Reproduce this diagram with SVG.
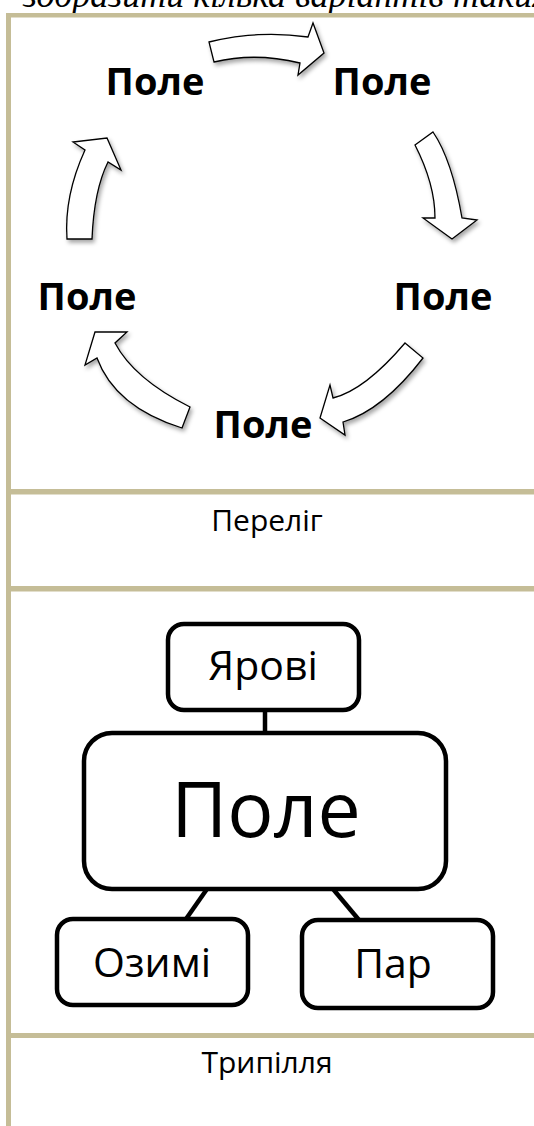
<svg xmlns="http://www.w3.org/2000/svg" width="534" height="1126" viewBox="0 0 534 1126">
<style>
.border{fill:#C5BD97}
.cyc{font-family:"Open Sans","Noto Sans",sans-serif;font-weight:bold;font-size:38px;fill:#000;text-anchor:middle}
.lbl{font-family:"Open Sans","Noto Sans",sans-serif;font-size:30px;fill:#000;text-anchor:middle}
.box{fill:#fff;stroke:#000;stroke-width:4.5}
.bt{font-family:"Open Sans","Noto Sans",sans-serif;font-size:41px;fill:#000;text-anchor:middle}
.arr{fill:#fff;stroke:#000;stroke-width:1.3;stroke-linejoin:miter;filter:url(#sh)}
.ln{stroke:#000;stroke-width:4.5;fill:none}
</style>
<defs>
<filter id="sh" x="-30%" y="-30%" width="160%" height="160%">
<feDropShadow dx="2" dy="3" stdDeviation="2" flood-color="#000" flood-opacity="0.35"/>
</filter>
</defs>
<rect width="534" height="1126" fill="#fff"/>
<text x="23" y="7" font-family="'Liberation Serif',serif" font-style="italic" font-size="36" fill="#000">зобразити кілька варіантів таких:</text>
<g id="table">
<rect class="border" x="6" y="13" width="528" height="4.5"/>
<rect class="border" x="6" y="13" width="5" height="1113"/>
<rect class="border" x="11" y="489" width="523" height="5.5"/>
<rect class="border" x="11" y="586" width="523" height="5.5"/>
<rect class="border" x="11" y="1033" width="523" height="5"/>
</g>
<g id="connectors">
<path id="arrow1" class="arr" d="M209,42 Q258,30 308,37 L313,23 L324,53 L298,75 L300,63 Q255,52 214,62 Z"/>
<path id="arrow2" class="arr" d="M415,145 L433,132 Q452,160 462,218 L477,220 L452,239 L423,218 L435,218 Q435,184 415,145 Z"/>
<path id="arrow3" class="arr" d="M405,343 L423,358 Q383,410 343,422 L345,435 L320,418 L330,385 L333,398 Q365,390 405,343 Z"/>
<path id="arrow4" class="arr" d="M190,407 L182,428 Q115,407 97,358 L85,365 L95,332 L127,332 L115,343 Q134,379 190,407 Z"/>
<path id="arrow5" class="arr" d="M67,239 L92,239 Q94,190 108,162 L121,170 L107,138 L73,142 L85,150 Q64,196 67,239 Z"/>
<line class="ln" x1="265" y1="710" x2="265" y2="734"/>
<line class="ln" x1="207" y1="889" x2="186" y2="919"/>
<line class="ln" x1="333" y1="889" x2="359" y2="920"/>
</g>
<g id="field-top-left"><text class="cyc" x="155" y="95">Поле</text></g>
<g id="field-top-right"><text class="cyc" x="382" y="95">Поле</text></g>
<g id="field-right"><text class="cyc" x="443" y="310">Поле</text></g>
<g id="field-bottom"><text class="cyc" x="263" y="438">Поле</text></g>
<g id="field-left"><text class="cyc" x="87" y="310">Поле</text></g>
<g id="label-perelig"><text class="lbl" x="267" y="531">Переліг</text></g>
<g id="node-yarovi">
<rect class="box" x="168" y="624" width="191" height="86" rx="16"/>
<text class="bt" x="263" y="680">Ярові</text>
</g>
<g id="node-pole">
<rect class="box" x="84" y="733" width="362" height="156" rx="28"/>
<text x="266" y="837" font-family="'Open Sans','Noto Sans',sans-serif" font-size="77" text-anchor="middle" fill="#000">Поле</text>
</g>
<g id="node-ozymi">
<rect class="box" x="57" y="919" width="191" height="86" rx="16"/>
<text class="bt" x="152" y="977">Озимі</text>
</g>
<g id="node-par">
<rect class="box" x="302" y="920" width="191" height="88" rx="16"/>
<text class="bt" x="393" y="978" font-size="46">Пар</text>
</g>
<g id="label-trypillia"><text class="lbl" x="267" y="1073">Трипілля</text></g>
</svg>
